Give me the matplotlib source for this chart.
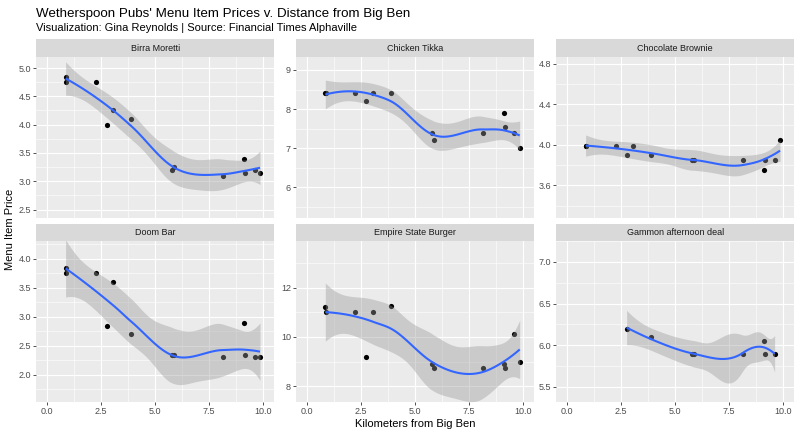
import math
import numpy as np
import matplotlib
matplotlib.use("Agg")
import matplotlib.pyplot as plt
from matplotlib.ticker import MultipleLocator, FixedLocator

plt.rcParams['font.family'] = ['Liberation Sans', 'DejaVu Sans']

# ---------------- data ----------------
distance_km = [0.85, 0.86, 2.24, 2.75, 3.05, 3.90, 5.78, 5.86, 8.13, 9.10, 9.15, 9.60, 9.85]
items = ["Birra Moretti", "Chicken Tikka", "Chocolate Brownie",
         "Doom Bar", "Empire State Burger", "Gammon afternoon deal"]
birra_moretti = [4.85, 4.75, 4.75, 4.00, 4.25, 4.10, 3.20, 3.25, 3.10, 3.40, 3.15, 3.20, 3.15]
chicken_tikka = [8.40, 8.40, 8.40, 8.20, 8.40, 8.40, 7.40, 7.20, 7.40, 7.90, 7.55, 7.40, 7.00]
chocolate_brownie = [3.99, 3.99, 3.99, 3.90, 3.99, 3.90, 3.85, 3.85, 3.85, 3.75, 3.85, 3.85, 4.05]
doom_bar = [3.85, 3.75, 3.75, 2.85, 3.60, 2.70, 2.35, 2.35, 2.30, 2.90, 2.35, 2.30, 2.30]
empire_state_burger = [11.20, 11.00, 11.00, 9.20, 11.00, 11.25, 8.90, 8.75, 8.75, 8.90, 8.75, 10.10, 9.00]
gammon_afternoon_deal = [None, None, None, 6.20, None, 6.10, 5.90, 5.90, 5.90, 6.05, 5.90, 5.90, None]
prices = [birra_moretti, chicken_tikka, chocolate_brownie,
          doom_bar, empire_state_burger, gammon_afternoon_deal]

y_breaks = [[2.5, 3.0, 3.5, 4.0, 4.5, 5.0],
            [6, 7, 8, 9],
            [3.6, 4.0, 4.4, 4.8],
            [2.0, 2.5, 3.0, 3.5, 4.0],
            [8, 10, 12],
            [5.5, 6.0, 6.5, 7.0]]
y_break_labels = [["2.5", "3.0", "3.5", "4.0", "4.5", "5.0"],
                  ["6", "7", "8", "9"],
                  ["3.6", "4.0", "4.4", "4.8"],
                  ["2.0", "2.5", "3.0", "3.5", "4.0"],
                  ["8", "10", "12"],
                  ["5.5", "6.0", "6.5", "7.0"]]
x_breaks = [0.0, 2.5, 5.0, 7.5, 10.0]
x_break_labels = ["0.0", "2.5", "5.0", "7.5", "10.0"]

# layout (not data)
y_limits = [(2.356, 5.20), (5.22, 9.34), (3.28, 4.87),
            (1.53, 4.31), (7.36, 13.89), (5.32, 7.25)]
x_limits = (-0.52, 10.52)


# ---------------- loess, R-style (kd-tree vertices + cubic Hermite interpolation) ----------------
def local_rows(x, x0, span=0.75):
    """Operator rows giving local quadratic value and slope at x0."""
    n = len(x)
    q = int(math.floor(n * span))
    d = np.abs(x - x0)
    h = np.sort(d)[q - 1] * 1.0000001
    u = np.clip(d / h, 0, 1)
    w = (1 - u ** 3) ** 3
    X = np.column_stack([np.ones(n), x - x0, (x - x0) ** 2])
    XtW = X.T * w
    coef = np.linalg.solve(XtW @ X, XtW)
    return coef[0], coef[1]


def kd_vertices(xs_sorted, fc):
    lo_b, hi_b = xs_sorted[0], xs_sorted[-1]
    mu = 0.005 * max(hi_b - lo_b, 1e-10)
    verts = {lo_b - mu, hi_b + mu}

    def split(l, u, vlo, vhi):
        if (u - l + 1) <= fc:
            return
        m = (l + u) // 2
        xm = xs_sorted[m]
        if xm == vlo or xm == vhi:
            return
        verts.add(xm)
        split(l, m, vlo, xm)
        split(m + 1, u, xm, vhi)

    split(0, len(xs_sorted) - 1, lo_b - mu, hi_b + mu)
    return np.array(sorted(verts))


def interp_operator(x, x_eval, span=0.75, cell=0.2):
    n = len(x)
    fc = int(math.floor(n * span * cell))
    verts = kd_vertices(np.sort(x), fc)
    vals, slopes = [], []
    for v in verts:
        a, b = local_rows(x, v, span)
        vals.append(a)
        slopes.append(b)
    vals = np.array(vals)
    slopes = np.array(slopes)
    rows = []
    for x0 in x_eval:
        j = np.searchsorted(verts, x0) - 1
        j = min(max(j, 0), len(verts) - 2)
        v0, v1 = verts[j], verts[j + 1]
        hh = v1 - v0
        t = (x0 - v0) / hh
        h00 = 2 * t ** 3 - 3 * t ** 2 + 1
        h10 = t ** 3 - 2 * t ** 2 + t
        h01 = -2 * t ** 3 + 3 * t ** 2
        h11 = t ** 3 - t ** 2
        rows.append(h00 * vals[j] + h10 * hh * slopes[j] + h01 * vals[j + 1] + h11 * hh * slopes[j + 1])
    return np.array(rows)


def t_ppf(p, df):
    c = math.exp(math.lgamma((df + 1) / 2) - math.lgamma(df / 2)) / math.sqrt(df * math.pi)
    g = np.linspace(0, 30, 300001)
    pdf = c * (1 + g ** 2 / df) ** (-(df + 1) / 2)
    cdf = 0.5 + np.concatenate([[0], np.cumsum((pdf[1:] + pdf[:-1]) / 2 * np.diff(g))])
    return float(np.interp(p, cdf, g))


def loess_fit(x, y, n_out=80):
    x = np.asarray(x, float)
    y = np.asarray(y, float)
    xe = np.linspace(x.min(), x.max(), n_out)
    L = interp_operator(x, x)
    Le = interp_operator(x, xe)
    res = y - L @ y
    M = np.eye(len(x)) - L
    MM = M.T @ M
    d1 = np.trace(MM)
    d2 = np.trace(MM @ MM)
    s = math.sqrt(np.sum(res ** 2) / d1)
    fit = Le @ y
    se = s * np.sqrt(np.sum(Le ** 2, axis=1))
    df = d1 ** 2 / d2
    t = t_ppf(0.975, df)
    return xe, fit, fit - t * se, fit + t * se


# ---------------- figure ----------------
W, H = 800, 436
fig = plt.figure(figsize=(8, 4.36), dpi=100)

col_left = [36, 295.7, 556]
panel_w = 238.5
row_top = [56.7, 241.0]
panel_h = 161.0
strip_h = 17.4

grey_bg = '#EBEBEB'
strip_bg = '#D9D9D9'
fs_tick = 6.5

for i, name in enumerate(items):
    r, c = divmod(i, 3)
    l = col_left[c]
    t = row_top[r]
    ax = fig.add_axes([l / W, 1 - (t + panel_h) / H, panel_w / W, panel_h / H])
    ax.set_facecolor(grey_bg)
    for sp in ax.spines.values():
        sp.set_visible(False)

    xs = [d for d, p in zip(distance_km, prices[i]) if p is not None]
    ys = [p for p in prices[i] if p is not None]

    ax.scatter(xs, ys, s=14, color='black', linewidths=0, zorder=3)
    xe, fit, lo, hi = loess_fit(xs, ys)
    ax.fill_between(xe, lo, hi, color='#999999', alpha=0.4, linewidth=0, zorder=4)
    ax.plot(xe, fit, color='#3366FF', lw=1.5, zorder=5, solid_capstyle='butt')

    ax.set_xlim(*x_limits)
    ax.set_ylim(*y_limits[i])

    ax.xaxis.set_major_locator(FixedLocator(x_breaks))
    ax.xaxis.set_minor_locator(MultipleLocator(1.25))
    step = y_breaks[i][1] - y_breaks[i][0]
    ax.yaxis.set_major_locator(FixedLocator(y_breaks[i]))
    ax.yaxis.set_minor_locator(MultipleLocator(step / 2))
    ax.set_yticklabels(y_break_labels[i])

    ax.grid(which='major', color='white', lw=0.8, zorder=0)
    ax.grid(which='minor', color='white', lw=0.4, zorder=0)
    ax.set_axisbelow(True)

    ax.tick_params(axis='both', which='major', length=2.0, width=0.6,
                   color='#333333', labelcolor='#4D4D4D', labelsize=fs_tick, pad=1.5)
    ax.tick_params(axis='both', which='minor', length=0)

    if r == 1:
        ax.set_xticklabels(x_break_labels)
    else:
        ax.tick_params(axis='x', which='major', length=0, labelbottom=False)

    # strip
    sax = fig.add_axes([l / W, 1 - t / H, panel_w / W, strip_h / H])
    sax.set_facecolor(strip_bg)
    sax.set_xticks([])
    sax.set_yticks([])
    for sp in sax.spines.values():
        sp.set_visible(False)
    sax.text(0.5, 0.5, name, ha='center', va='center', fontsize=fs_tick,
             color='#1A1A1A', transform=sax.transAxes)

# titles
fig.text(36 / W, 1 - 16.5 / H, "Wetherspoon Pubs' Menu Item Prices v. Distance from Big Ben",
         fontsize=9.6, color='black', ha='left', va='baseline')
fig.text(36 / W, 1 - 31.0 / H, "Visualization: Gina Reynolds | Source: Financial Times Alphaville",
         fontsize=8.0, color='black', ha='left', va='baseline')
fig.text((36 + 795) / 2 / W, 1 - 423.5 / H, "Kilometers from Big Ben",
         fontsize=8, color='black', ha='center', va='center')
fig.text(10 / W, 1 - 229 / H, "Menu Item Price", rotation=90,
         fontsize=8, color='black', ha='center', va='center')

fig.savefig("out.png", dpi=100)
